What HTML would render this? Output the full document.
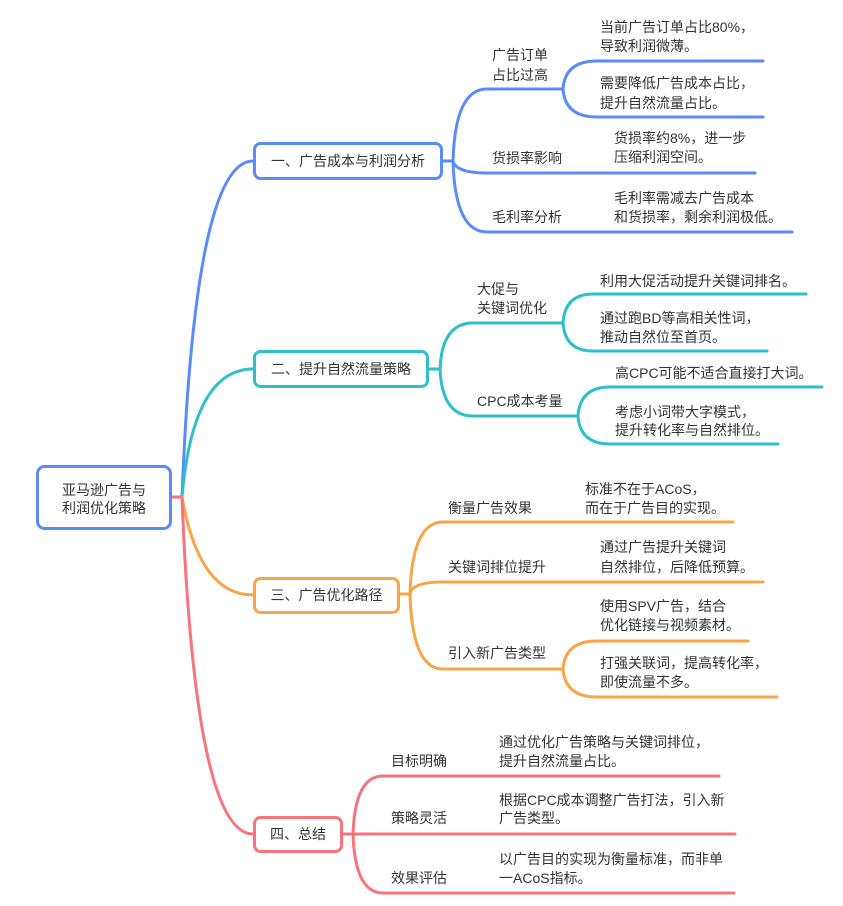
<!DOCTYPE html>
<html>
<head>
<meta charset="utf-8">
<style>
html,body{margin:0;padding:0;background:#fff;}
svg{display:block;}
text{font-family:"Liberation Sans","Noto Sans CJK SC",sans-serif;font-size:14px;fill:#333;}
</style>
</head>
<body>
<svg width="843" height="906" viewBox="0 0 843 906" xmlns="http://www.w3.org/2000/svg">
<g fill="none" stroke-width="3" stroke-linecap="round">
  <!-- main connectors -->
  <path d="M182,497 Q195,161 253,161" stroke="#5A8BF7"/>
  <path d="M182,497 Q193,369 253,369" stroke="#2DBFCC"/>
  <path d="M182,497 Q199,595 253,595" stroke="#F9A446"/>
  <path d="M182,497 Q195,834 253,834" stroke="#F8737C"/>
  <path d="M171,497 L182,497" stroke="#F8737C"/>

  <!-- branch 1 -->
  <g stroke="#5A8BF7">
    <path d="M443,161 L453,161"/>
    <path d="M453,161 Q455,89 487,89 L563,89"/>
    <path d="M453,161 Q456,173 487,173 L755,173"/>
    <path d="M453,161 Q455,232 487,232 L792,232"/>
    <path d="M563,89 Q565,61 597,61 L763,61"/>
    <path d="M563,89 Q565,117 597,117 L763,117"/>
  </g>

  <!-- branch 2 -->
  <g stroke="#2DBFCC">
    <path d="M429,369 L440,369"/>
    <path d="M440,369 Q442,323 473,323 L563,323"/>
    <path d="M440,369 Q442,416 473,416 L578,416"/>
    <path d="M563,323 Q565,294 593,294 L806,294"/>
    <path d="M563,323 Q565,351 593,351 L767,351"/>
    <path d="M578,416 Q580,387 610,387 L822,387"/>
    <path d="M578,416 Q580,444 610,444 L778,444"/>
  </g>

  <!-- branch 3 -->
  <g stroke="#F9A446">
    <path d="M400,594 L410,594"/>
    <path d="M410,594 Q412,522 443,522 L733,522"/>
    <path d="M410,594 Q412,582 443,582 L763,582"/>
    <path d="M410,594 Q412,669 443,669 L563,669"/>
    <path d="M563,669 Q565,641 597,641 L748,641"/>
    <path d="M563,669 Q565,697 597,697 L777,697"/>
  </g>

  <!-- branch 4 -->
  <g stroke="#F8737C">
    <path d="M343,834 L353,834"/>
    <path d="M353,834 Q355,776 383,776 L719,776"/>
    <path d="M353,834 L735,834"/>
    <path d="M353,834 Q355,893 383,893 L734,893"/>
  </g>

  <!-- boxes -->
  <rect x="37.5" y="466.5" width="133" height="62" rx="7" fill="#fff" stroke="#5A8BF7"/>
  <rect x="254.5" y="143.5" width="187" height="35" rx="6" fill="#fff" stroke="#5A8BF7"/>
  <rect x="254.5" y="351.5" width="173" height="35" rx="6" fill="#fff" stroke="#2DBFCC"/>
  <rect x="254.5" y="578.5" width="144" height="34" rx="6" fill="#fff" stroke="#F9A446"/>
  <rect x="254.5" y="817.5" width="87" height="34" rx="6" fill="#fff" stroke="#F8737C"/>
</g>

<!-- root & branch labels -->
<text x="104" y="495" text-anchor="middle">亚马逊广告与</text>
<text x="104" y="513" text-anchor="middle">利润优化策略</text>
<text x="348" y="166" text-anchor="middle">一、广告成本与利润分析</text>
<text x="341" y="374" text-anchor="middle">二、提升自然流量策略</text>
<text x="326.5" y="600" text-anchor="middle">三、广告优化路径</text>
<text x="298" y="839" text-anchor="middle">四、总结</text>

<!-- branch 1 -->
<text x="492" y="60">广告订单</text>
<text x="492" y="80">占比过高</text>
<text x="600" y="32">当前广告订单占比80%，</text>
<text x="600" y="51">导致利润微薄。</text>
<text x="600" y="88">需要降低广告成本占比，</text>
<text x="600" y="108">提升自然流量占比。</text>
<text x="492" y="163">货损率影响</text>
<text x="614" y="143">货损率约8%，进一步</text>
<text x="614" y="162">压缩利润空间。</text>
<text x="492" y="222">毛利率分析</text>
<text x="614" y="203">毛利率需减去广告成本</text>
<text x="614" y="222">和货损率，剩余利润极低。</text>

<!-- branch 2 -->
<text x="477" y="294">大促与</text>
<text x="477" y="313">关键词优化</text>
<text x="600" y="286">利用大促活动提升关键词排名。</text>
<text x="600" y="323">通过跑BD等高相关性词，</text>
<text x="600" y="342">推动自然位至首页。</text>
<text x="477" y="406">CPC成本考量</text>
<text x="615" y="378">高CPC可能不适合直接打大词。</text>
<text x="615" y="417">考虑小词带大字模式，</text>
<text x="615" y="435">提升转化率与自然排位。</text>

<!-- branch 3 -->
<text x="448" y="513">衡量广告效果</text>
<text x="585" y="494">标准不在于ACoS，</text>
<text x="585" y="513">而在于广告目的实现。</text>
<text x="448" y="572">关键词排位提升</text>
<text x="600" y="552">通过广告提升关键词</text>
<text x="600" y="572">自然排位，后降低预算。</text>
<text x="448" y="658">引入新广告类型</text>
<text x="600" y="611">使用SPV广告，结合</text>
<text x="600" y="630">优化链接与视频素材。</text>
<text x="600" y="668">打强关联词，提高转化率，</text>
<text x="600" y="687">即使流量不多。</text>

<!-- branch 4 -->
<text x="391" y="766">目标明确</text>
<text x="499" y="747">通过优化广告策略与关键词排位，</text>
<text x="499" y="766">提升自然流量占比。</text>
<text x="391" y="823">策略灵活</text>
<text x="499" y="805">根据CPC成本调整广告打法，引入新</text>
<text x="499" y="823">广告类型。</text>
<text x="391" y="883">效果评估</text>
<text x="499" y="864">以广告目的实现为衡量标准，而非单</text>
<text x="499" y="883">一ACoS指标。</text>
</svg>
</body>
</html>
